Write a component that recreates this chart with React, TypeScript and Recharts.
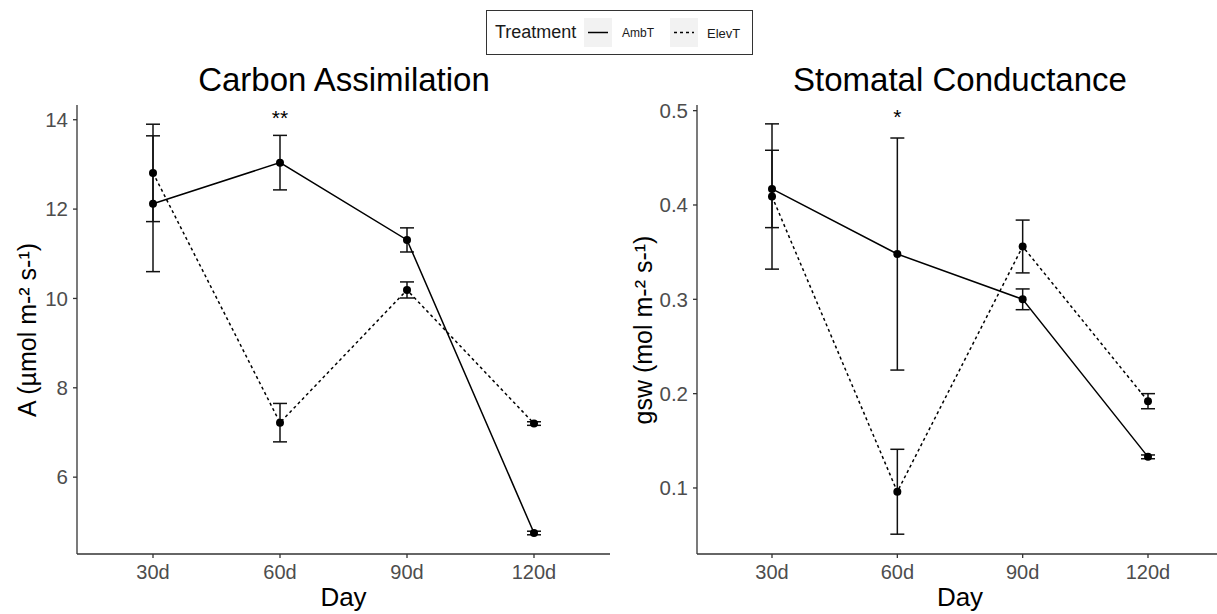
import { LineChart, Line, XAxis, YAxis, ErrorBar, ReferenceDot } from 'recharts';

const days = ['30d', '60d', '90d', '120d'];

// Carbon assimilation, mean and SE
const assimAmbT = [12.12, 13.04, 11.31, 4.75];
const assimAmbTSe = [1.52, 0.61, 0.27, 0.04];
const assimElevT = [12.81, 7.22, 10.19, 7.2];
const assimElevTSe = [1.09, 0.43, 0.18, 0.04];

// Stomatal conductance, mean and SE
const gswAmbT = [0.417, 0.348, 0.3, 0.133];
const gswAmbTSe = [0.041, 0.123, 0.011, 0.002];
const gswElevT = [0.409, 0.096, 0.356, 0.192];
const gswElevTSe = [0.077, 0.045, 0.028, 0.008];

const assimTicks = [6, 8, 10, 12, 14];
const gswTicks = [0.1, 0.2, 0.3, 0.4, 0.5];

const FONT = '"Liberation Sans", Arial, Helvetica, sans-serif';
const AXIS = '#333333';
const TICK_TEXT = '#4d4d4d';

const assimData = days.map((day, i) => ({
  day,
  amb: assimAmbT[i],
  ambSe: assimAmbTSe[i],
  elev: assimElevT[i],
  elevSe: assimElevTSe[i],
}));

const gswData = days.map((day, i) => ({
  day,
  amb: gswAmbT[i],
  ambSe: gswAmbTSe[i],
  elev: gswElevT[i],
  elevSe: gswElevTSe[i],
}));

interface PanelProps {
  data: typeof assimData;
  domain: [number, number];
  ticks: number[];
  fmt: (v: number) => string;
  star: string;
  starY: number;
  marginLeft: number;
  marginRight: number;
  width: number;
  padLeft: number;
  padRight: number;
}

function Panel({ data, domain, ticks, fmt, star, starY, marginLeft, marginRight, width, padLeft, padRight }: PanelProps) {
  return (
    <LineChart
      width={width}
      height={614}
      data={data}
      margin={{ top: 105, right: marginRight, bottom: 30, left: marginLeft }}
      style={{ fontFamily: FONT }}
    >
      <XAxis
        dataKey="day"
        type="category"
        padding={{ left: padLeft, right: padRight }}
        height={30}
        tickSize={4}
        tickMargin={7}
        axisLine={{ stroke: AXIS, strokeWidth: 1.3 }}
        tickLine={{ stroke: AXIS, strokeWidth: 1.3 }}
        tick={{ fill: TICK_TEXT, fontSize: 20 }}
      />
      <YAxis
        type="number"
        domain={domain}
        ticks={ticks}
        allowDataOverflow
        width={50}
        tickSize={4}
        tickMargin={5}
        tickFormatter={fmt}
        axisLine={{ stroke: AXIS, strokeWidth: 1.3 }}
        tickLine={{ stroke: AXIS, strokeWidth: 1.3 }}
        tick={{ fill: TICK_TEXT, fontSize: 20.5 }}
      />
      <Line
        dataKey="amb"
        stroke="#000"
        strokeWidth={1.5}
        dot={{ r: 4, fill: '#000', stroke: '#000', strokeWidth: 0 }}
        activeDot={false}
        isAnimationActive={false}
      >
        <ErrorBar dataKey="ambSe" direction="y" width={7} stroke="#111" strokeWidth={1.5} isAnimationActive={false} />
      </Line>
      <Line
        dataKey="elev"
        stroke="#000"
        strokeWidth={1.5}
        strokeDasharray="3 3"
        dot={{ r: 4, fill: '#000', stroke: '#000', strokeWidth: 0 }}
        activeDot={false}
        isAnimationActive={false}
      >
        <ErrorBar dataKey="elevSe" direction="y" width={7} stroke="#111" strokeWidth={1.5} isAnimationActive={false} />
      </Line>
      <ReferenceDot
        x="60d"
        y={starY}
        r={0}
        fill="none"
        stroke="none"
        label={{ value: star, position: 'center', fontSize: 21, fill: '#000' }}
      />
    </LineChart>
  );
}

const abs = (style: React.CSSProperties): React.CSSProperties => ({ position: 'absolute', whiteSpace: 'nowrap', ...style });

function LegendKey({ dashed }: { dashed?: boolean }) {
  return (
    <svg width={28} height={29} style={{ display: 'block', background: '#f2f2f2' }}>
      <line x1={4} x2={24} y1={14.5} y2={14.5} stroke="#000" strokeWidth={1.5} strokeDasharray={dashed ? '3 3' : undefined} />
    </svg>
  );
}

export default function App() {
  return (
    <div
      style={{
        position: 'absolute',
        left: 0,
        top: 0,
        width: 1217,
        height: 614,
        overflow: 'hidden',
        background: '#fff',
        fontFamily: FONT,
      }}
    >
      <div style={abs({ left: 0, top: 0 })}>
        <Panel
          data={assimData}
          domain={[4.28, 14.33]}
          ticks={assimTicks}
          fmt={(v) => String(v)}
          star="**"
          starY={14.06}
          width={620}
          marginLeft={27}
          marginRight={10}
          padLeft={76}
          padRight={76}
        />
      </div>
      <div style={abs({ left: 620, top: 0 })}>
        <Panel
          data={gswData}
          domain={[0.03, 0.506]}
          ticks={gswTicks}
          fmt={(v) => v.toFixed(1)}
          star="*"
          starY={0.4933}
          width={605}
          marginLeft={27}
          marginRight={1}
          padLeft={75}
          padRight={76}
        />
      </div>

      {/* titles */}
      <div style={abs({ left: 344, top: 61, transform: 'translateX(-50%)', fontSize: 33, color: '#000' })}>
        Carbon Assimilation
      </div>
      <div style={abs({ left: 960, top: 61, transform: 'translateX(-50%)', fontSize: 33, color: '#000' })}>
        Stomatal Conductance
      </div>

      {/* axis titles */}
      <div style={abs({ left: 343.5, top: 582, transform: 'translateX(-50%)', fontSize: 26, color: '#000' })}>Day</div>
      <div style={abs({ left: 960, top: 582, transform: 'translateX(-50%)', fontSize: 26, color: '#000' })}>Day</div>
      <div
        style={abs({
          left: 27,
          top: 330,
          transform: 'translate(-50%, -50%) rotate(-90deg)',
          fontSize: 25,
          color: '#000',
        })}
      >
        A (µmol m-² s-¹)
      </div>
      <div
        style={abs({
          left: 643,
          top: 330,
          transform: 'translate(-50%, -50%) rotate(-90deg)',
          fontSize: 25,
          color: '#000',
        })}
      >
        gsw (mol m-² s-¹)
      </div>

      {/* legend */}
      <div
        style={abs({
          left: 486,
          top: 10,
          width: 265,
          height: 43,
          border: '1px solid #333',
          boxSizing: 'content-box',
        })}
      >
        <div style={abs({ left: 8, top: 11, fontSize: 18, color: '#1a1a1a' })}>Treatment</div>
        <div style={abs({ left: 97, top: 7 })}>
          <LegendKey />
        </div>
        <div style={abs({ left: 135, top: 15, fontSize: 12, color: '#1a1a1a' })}>AmbT</div>
        <div style={abs({ left: 183, top: 7 })}>
          <LegendKey dashed />
        </div>
        <div style={abs({ left: 220, top: 15, fontSize: 13, color: '#1a1a1a' })}>ElevT</div>
      </div>
    </div>
  );
}
